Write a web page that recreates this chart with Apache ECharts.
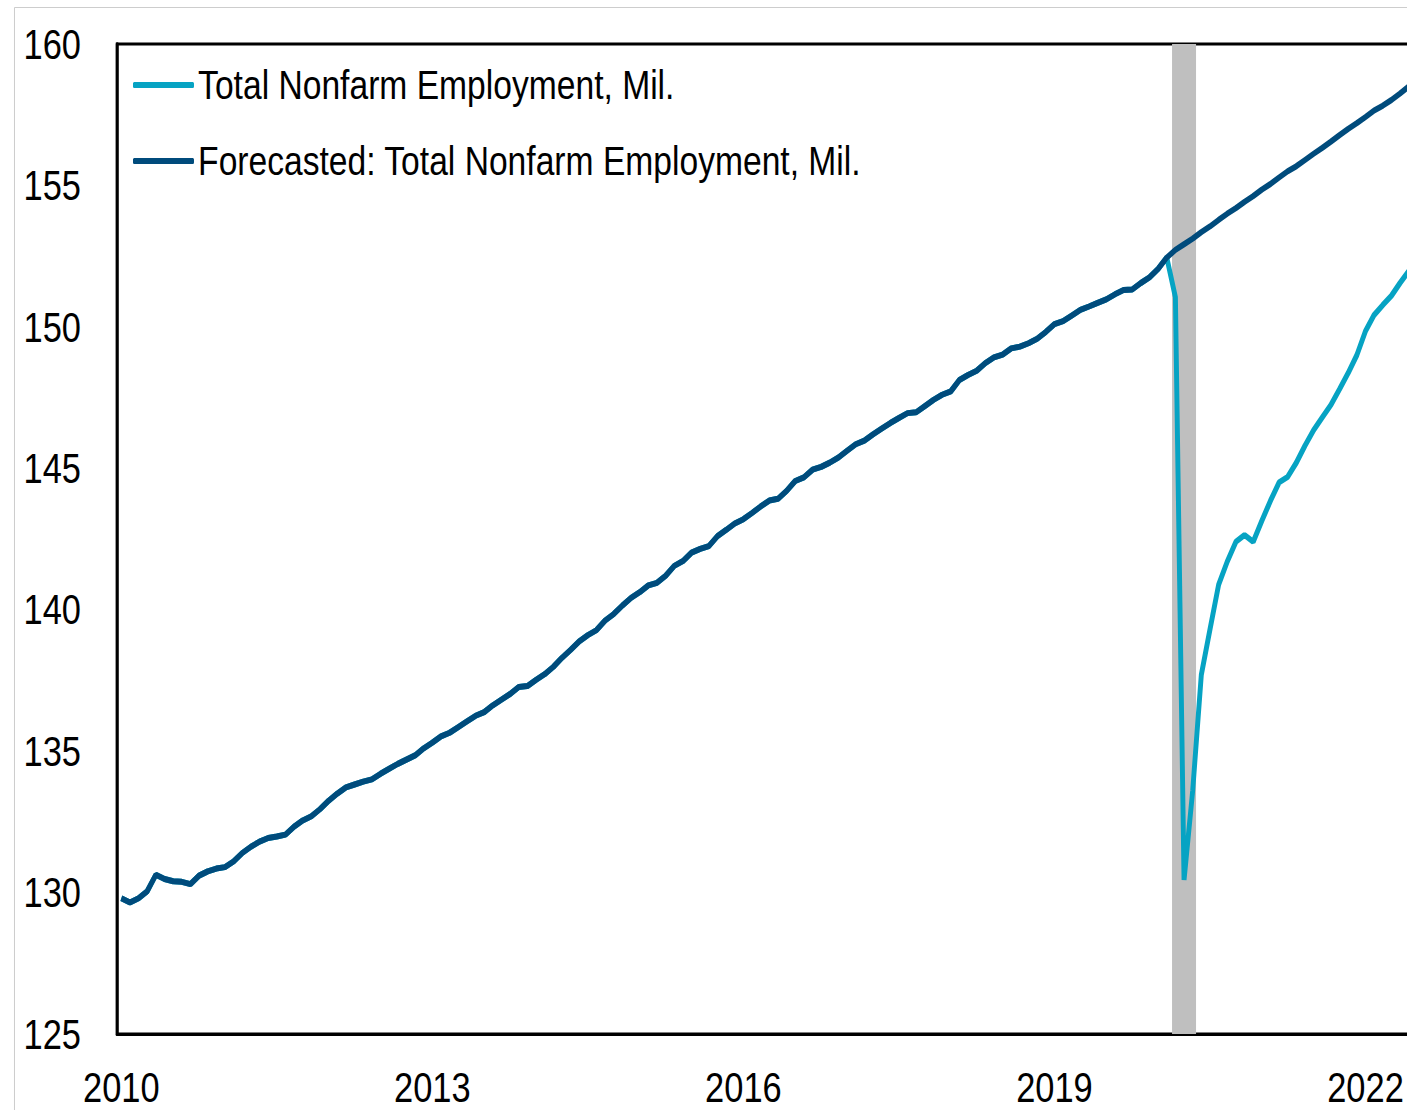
<!DOCTYPE html>
<html>
<head>
<meta charset="utf-8">
<title>Total Nonfarm Employment</title>
<script src="https://cdn.jsdelivr.net/npm/echarts@6/dist/echarts.min.js"></script>
<style>
  html, body { margin: 0; padding: 0; background: #fff; overflow: hidden; }
  /* chart is laid out wider and squeezed back, so the Arial-like labels look narrow */
  #chart { width: 1716px; height: 1110px; transform: scaleX(0.82); transform-origin: 0 0; }
</style>
</head>
<body>
<div id="chart"></div>
<script>
// monthly series, Jan 2010 .. Jun 2022 (mil.)
var startYear = 2010;
var monthCount = 150;
var tickYears = ["2010", "2013", "2016", "2019", "2022"];

var actual = [
  // 2010
  129.80, 129.65, 129.80, 130.05, 130.63, 130.48, 130.40, 130.38, 130.30, 130.60, 130.75, 130.85,
  // 2011
  130.90, 131.10, 131.40, 131.62, 131.80, 131.93, 131.98, 132.05, 132.33, 132.55, 132.70, 132.95,
  // 2012
  133.25, 133.50, 133.72, 133.82, 133.92, 134.00, 134.20, 134.38, 134.55, 134.70, 134.85, 135.10,
  // 2013
  135.30, 135.52, 135.65, 135.85, 136.05, 136.25, 136.38, 136.62, 136.82, 137.02, 137.27, 137.30,
  // 2014
  137.52, 137.72, 137.98, 138.30, 138.58, 138.88, 139.10, 139.28, 139.62, 139.85, 140.15, 140.42,
  // 2015
  140.62, 140.86, 140.95, 141.20, 141.55, 141.72, 142.02, 142.15, 142.25, 142.60, 142.82, 143.05,
  // 2016
  143.20, 143.42, 143.65, 143.86, 143.92, 144.20, 144.55, 144.68, 144.95, 145.05, 145.20, 145.38,
  // 2017
  145.62, 145.85, 145.98, 146.20, 146.40, 146.60, 146.78, 146.95, 146.98, 147.20, 147.42, 147.60,
  // 2018
  147.72, 148.12, 148.30, 148.45, 148.72, 148.92, 149.02, 149.24, 149.30, 149.42, 149.58, 149.82,
  // 2019
  150.10, 150.20, 150.40, 150.60, 150.72, 150.85, 150.97, 151.15, 151.30, 151.32, 151.55, 151.75,
  // 2020
  152.05, 152.45, 151.05, 130.45, 133.60, 137.70, 139.30, 140.88, 141.70, 142.40, 142.64, 142.40,
  // 2021
  143.14, 143.85, 144.50, 144.70, 145.20, 145.80, 146.35, 146.80, 147.24, 147.80, 148.37, 149.00,
  // 2022
  149.85, 150.42, 150.77, 151.10, 151.55, 151.97
];

// forecast path from Feb 2020 on (history before that is the same as actual)
var forecastStart = 121;
var forecastTail = [
  152.45, 152.72, 152.92, 153.12, 153.35, 153.55, 153.78, 154.00, 154.20, 154.42,
  154.62, 154.85, 155.05, 155.28, 155.50, 155.68, 155.90, 156.12, 156.33, 156.55,
  156.78, 157.00, 157.20, 157.42, 157.65, 157.82, 158.02, 158.25, 158.50
];

// recession shading (centred on Apr 2020)
var recessionMonth = 123;
var recessionTop = 160;

var months = [];
for (var i = 0; i < monthCount; i++) {
  var y = startYear + Math.floor(i / 12);
  var m = (i % 12) + 1;
  months.push(y + "-" + (m < 10 ? "0" + m : m));
}
var forecast = actual.slice(0, forecastStart).concat(forecastTail);
var recession = months.map(function (d, i) { return i === recessionMonth ? recessionTop : null; });

// horizontal squeeze applied by the css transform, x sizes are divided by it
var SX = 0.82;
var font = '"Liberation Sans", Arial, sans-serif';

var myChart = echarts.init(document.getElementById("chart"), null, { renderer: "svg" });
myChart.setOption({
  animation: false,
  backgroundColor: "#fff",
  graphic: [{
    type: "rect",
    shape: { x: 14.5 / SX, y: 7.5, width: 2000, height: 1300 },
    style: { fill: "none", stroke: "#c8c8c8", lineWidth: 1 },
    z: -1
  }],
  grid: {
    left: 117 / SX,
    top: 44,
    width: 1296 / SX,
    height: 990,
    outerBoundsMode: "none",
    containLabel: false,
    show: true,
    borderColor: "#000",
    borderWidth: 3
  },
  legend: {
    data: ["Total Nonfarm Employment, Mil.", "Forecasted: Total Nonfarm Employment, Mil."],
    orient: "vertical",
    left: 133 / SX,
    top: 62,
    padding: 0,
    itemWidth: 61 / SX,
    itemHeight: 6,
    itemGap: 30,
    icon: "roundRect",
    textStyle: { fontFamily: font, fontSize: 41, color: "#000", lineHeight: 46 }
  },
  xAxis: {
    type: "category",
    data: months,
    boundaryGap: true,
    axisLine: { lineStyle: { color: "#000", width: 3 } },
    axisTick: { show: false },
    splitLine: { show: false },
    axisLabel: {
      interval: function (index) { return index % 36 === 0; },
      formatter: function (v) { return tickYears.indexOf(v.slice(0, 4)) >= 0 ? v.slice(0, 4) : ""; },
      fontFamily: font,
      fontSize: 42,
      color: "#000",
      margin: 32
    }
  },
  yAxis: {
    type: "value",
    min: 125,
    max: 160,
    interval: 5,
    axisLine: { show: true, lineStyle: { color: "#000", width: 3.6 } },
    axisTick: { show: false },
    splitLine: { show: false },
    axisLabel: { fontFamily: font, fontSize: 42, color: "#000", margin: 36 / SX }
  },
  series: [
    {
      name: "Recession",
      type: "bar",
      data: recession,
      barWidth: 24 / SX,
      itemStyle: { color: "#bfbfbf" },
      silent: true
    },
    {
      name: "Total Nonfarm Employment, Mil.",
      type: "line",
      data: actual,
      showSymbol: false,
      color: "#06a3c3",
      lineStyle: { color: "#06a3c3", width: 6 }
    },
    {
      name: "Forecasted: Total Nonfarm Employment, Mil.",
      type: "line",
      data: forecast,
      showSymbol: false,
      color: "#004b7c",
      lineStyle: { color: "#004b7c", width: 6 }
    }
  ]
});
</script>
</body>
</html>
